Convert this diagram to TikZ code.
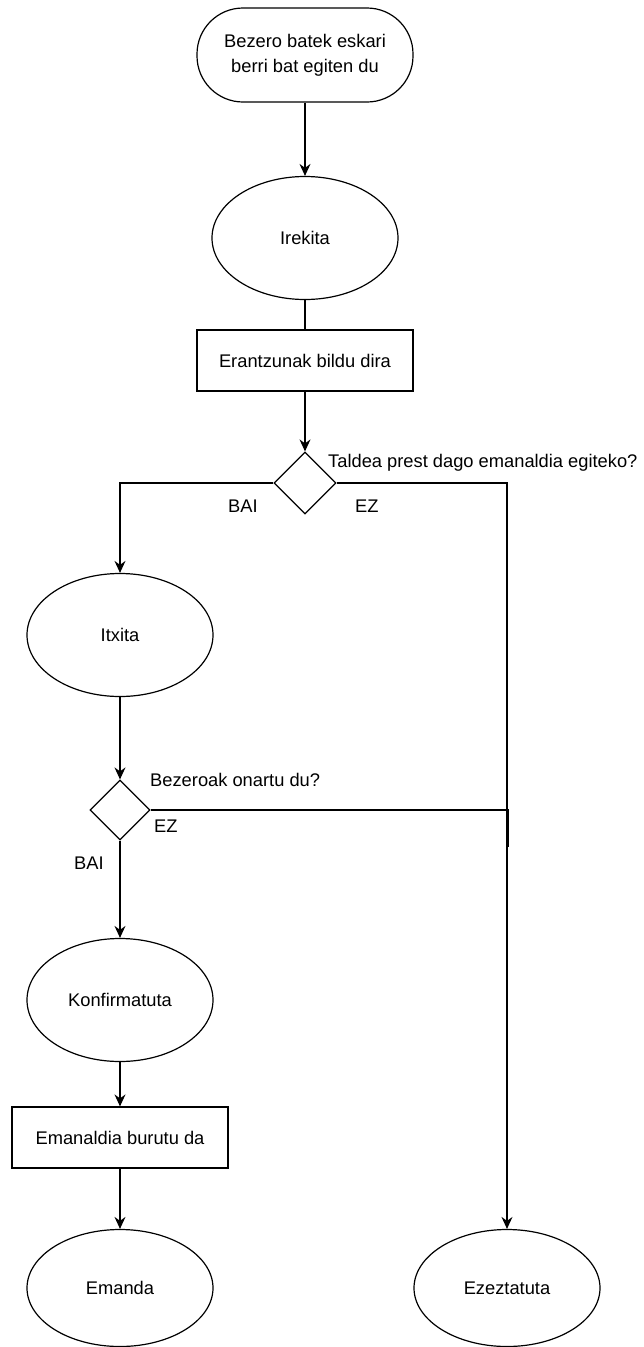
\documentclass[tikz,border=0pt]{standalone}
\usepackage{fontspec}
\setmainfont{Liberation Sans}
\usetikzlibrary{shapes.geometric,arrows.meta}
\begin{document}
\begin{tikzpicture}[x=1pt,y=-1pt,
  every node/.style={font=\fontsize{18.3}{25}\selectfont},
  shp/.style={draw=black,line width=1.2pt,inner sep=0pt,align=center},
  state/.style={shp,ellipse,minimum width=186pt,minimum height=123pt},
  task/.style={shp,rectangle,minimum width=216pt,minimum height=61pt},
  startbox/.style={shp,rectangle,rounded corners=46pt,minimum width=216pt,minimum height=94pt},
  choice/.style={shp,diamond,minimum width=62pt,minimum height=62pt},
  lbl/.style={inner sep=0pt,anchor=base west},
  flow/.style={line width=1.2pt,-{Stealth[length=12pt,width=11pt,inset=4pt]}},
  plain/.style={line width=1.2pt}
]
\useasboundingbox (0,0) rectangle (643,1347);

% main column
\node[startbox] (start) at (305,55) {Bezero batek eskari\\berri bat egiten du};
\node[state] (open) at (305,238) {Irekita};
\node[task] (answers) at (305,360.5) {Erantzunak bildu dira};
\node[choice] (ready) at (305,483) {};

% left branch
\node[state] (closed) at (120,635) {Itxita};
\node[choice,minimum width=60pt,minimum height=60pt] (accepted) at (120,810) {};
\node[state] (confirmed) at (120,1000) {Konfirmatuta};
\node[task] (performed) at (120,1137.5) {Emanaldia burutu da};
\node[state,minimum height=117pt] (given) at (120,1288) {Emanda};

% right branch
\node[state,minimum height=117pt] (cancelled) at (507,1288) {Ezeztatuta};
\coordinate (join) at (508,847);

% labels
\node[lbl] (q1) at (328,467) {Taldea prest dago emanaldia egiteko?};
\node[lbl] (yes1) at (228,512) {BAI};
\node[lbl] (no1) at (355,512) {EZ};
\node[lbl] (q2) at (150,786) {Bezeroak onartu du?};
\node[lbl] (no2) at (154,832) {EZ};
\node[lbl] (yes2) at (74,869) {BAI};

% connectors
\draw[flow] (start.south) -- (open.north);
\draw[plain] (open.south) -- (answers.north);
\draw[flow] (answers.south) -- (ready.north);
\draw[flow] (ready.west) -| (closed.north);
\draw[flow] (ready.east) -| (cancelled.north);
\draw[flow] (closed.south) -- (accepted.north);
\draw[flow] (accepted.south) -- (confirmed.north);
\draw[plain] (accepted.east) -- (accepted.east -| join) -- (join);
\draw[flow] (confirmed.south) -- (performed.north);
\draw[flow] (performed.south) -- (given.north);
\end{tikzpicture}
\end{document}
